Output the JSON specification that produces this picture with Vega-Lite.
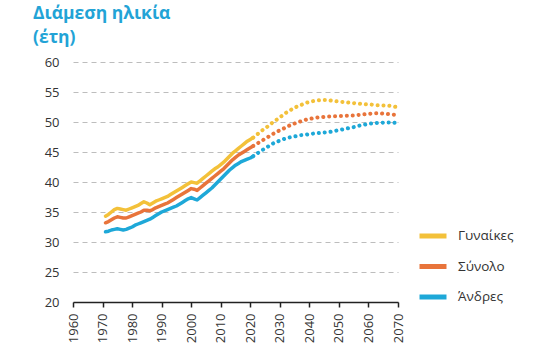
{
  "$schema": "https://vega.github.io/schema/vega-lite/v6.json",
  "width": 325,
  "height": 240,
  "autosize": {"type": "none"},
  "padding": {"left": 73, "top": 62, "right": 135, "bottom": 55},
  "background": "white",
  "title": {
    "text": ["Διάμεση ηλικία", "(έτη)"],
    "anchor": "start",
    "frame": "group",
    "orient": "top",
    "font": "Open Sans",
    "fontSize": 17.5,
    "fontWeight": "bold",
    "color": "#22a3d6",
    "lineHeight": 23.5,
    "dx": -40,
    "offset": 10
  },
  "config": {
    "view": {"stroke": null},
    "font": "Open Sans"
  },
  "datasets": {
    "hist": [
      {"year":1971,"Γυναίκες":34.3,"Σύνολο":33.2,"Άνδρες":31.7},
      {"year":1972,"Γυναίκες":34.6,"Σύνολο":33.4,"Άνδρες":31.8},
      {"year":1973,"Γυναίκες":35.0,"Σύνολο":33.7,"Άνδρες":32.0},
      {"year":1974,"Γυναίκες":35.4,"Σύνολο":34.0,"Άνδρες":32.1},
      {"year":1975,"Γυναίκες":35.6,"Σύνολο":34.2,"Άνδρες":32.2},
      {"year":1976,"Γυναίκες":35.5,"Σύνολο":34.1,"Άνδρες":32.1},
      {"year":1977,"Γυναίκες":35.4,"Σύνολο":34.0,"Άνδρες":32.0},
      {"year":1978,"Γυναίκες":35.3,"Σύνολο":34.0,"Άνδρες":32.1},
      {"year":1979,"Γυναίκες":35.5,"Σύνολο":34.2,"Άνδρες":32.3},
      {"year":1980,"Γυναίκες":35.7,"Σύνολο":34.4,"Άνδρες":32.5},
      {"year":1981,"Γυναίκες":35.9,"Σύνολο":34.6,"Άνδρες":32.8},
      {"year":1982,"Γυναίκες":36.1,"Σύνολο":34.8,"Άνδρες":33.0},
      {"year":1983,"Γυναίκες":36.4,"Σύνολο":35.0,"Άνδρες":33.2},
      {"year":1984,"Γυναίκες":36.7,"Σύνολο":35.3,"Άνδρες":33.4},
      {"year":1985,"Γυναίκες":36.5,"Σύνολο":35.3,"Άνδρες":33.6},
      {"year":1986,"Γυναίκες":36.2,"Σύνολο":35.2,"Άνδρες":33.8},
      {"year":1987,"Γυναίκες":36.5,"Σύνολο":35.4,"Άνδρες":34.1},
      {"year":1988,"Γυναίκες":36.8,"Σύνολο":35.7,"Άνδρες":34.4},
      {"year":1989,"Γυναίκες":37.0,"Σύνολο":35.9,"Άνδρες":34.7},
      {"year":1990,"Γυναίκες":37.2,"Σύνολο":36.1,"Άνδρες":35.0},
      {"year":1991,"Γυναίκες":37.4,"Σύνολο":36.3,"Άνδρες":35.2},
      {"year":1992,"Γυναίκες":37.6,"Σύνολο":36.5,"Άνδρες":35.4},
      {"year":1993,"Γυναίκες":37.9,"Σύνολο":36.8,"Άνδρες":35.6},
      {"year":1994,"Γυναίκες":38.2,"Σύνολο":37.1,"Άνδρες":35.8},
      {"year":1995,"Γυναίκες":38.5,"Σύνολο":37.4,"Άνδρες":36.0},
      {"year":1996,"Γυναίκες":38.8,"Σύνολο":37.7,"Άνδρες":36.3},
      {"year":1997,"Γυναίκες":39.1,"Σύνολο":38.0,"Άνδρες":36.6},
      {"year":1998,"Γυναίκες":39.4,"Σύνολο":38.3,"Άνδρες":36.9},
      {"year":1999,"Γυναίκες":39.7,"Σύνολο":38.6,"Άνδρες":37.2},
      {"year":2000,"Γυναίκες":40.0,"Σύνολο":38.9,"Άνδρες":37.4},
      {"year":2001,"Γυναίκες":39.9,"Σύνολο":38.8,"Άνδρες":37.2},
      {"year":2002,"Γυναίκες":39.8,"Σύνολο":38.6,"Άνδρες":37.0},
      {"year":2003,"Γυναίκες":40.2,"Σύνολο":39.0,"Άνδρες":37.4},
      {"year":2004,"Γυναίκες":40.6,"Σύνολο":39.4,"Άνδρες":37.8},
      {"year":2005,"Γυναίκες":41.0,"Σύνολο":39.8,"Άνδρες":38.2},
      {"year":2006,"Γυναίκες":41.4,"Σύνολο":40.2,"Άνδρες":38.6},
      {"year":2007,"Γυναίκες":41.8,"Σύνολο":40.6,"Άνδρες":39.0},
      {"year":2008,"Γυναίκες":42.2,"Σύνολο":41.0,"Άνδρες":39.5},
      {"year":2009,"Γυναίκες":42.5,"Σύνολο":41.4,"Άνδρες":40.0},
      {"year":2010,"Γυναίκες":42.9,"Σύνολο":41.8,"Άνδρες":40.5},
      {"year":2011,"Γυναίκες":43.3,"Σύνολο":42.2,"Άνδρες":41.0},
      {"year":2012,"Γυναίκες":43.8,"Σύνολο":42.7,"Άνδρες":41.5},
      {"year":2013,"Γυναίκες":44.3,"Σύνολο":43.2,"Άνδρες":42.0},
      {"year":2014,"Γυναίκες":44.8,"Σύνολο":43.7,"Άνδρες":42.4},
      {"year":2015,"Γυναίκες":45.2,"Σύνολο":44.1,"Άνδρες":42.8},
      {"year":2016,"Γυναίκες":45.6,"Σύνολο":44.5,"Άνδρες":43.1},
      {"year":2017,"Γυναίκες":46.0,"Σύνολο":44.8,"Άνδρες":43.4},
      {"year":2018,"Γυναίκες":46.4,"Σύνολο":45.1,"Άνδρες":43.6},
      {"year":2019,"Γυναίκες":46.8,"Σύνολο":45.4,"Άνδρες":43.8},
      {"year":2020,"Γυναίκες":47.1,"Σύνολο":45.7,"Άνδρες":44.0},
      {"year":2021,"Γυναίκες":47.4,"Σύνολο":46.0,"Άνδρες":44.3}
    ],
    "proj": [
      {"year":2021,"Γυναίκες":47.4,"Σύνολο":46.0,"Άνδρες":44.3},
      {"year":2022,"Γυναίκες":47.8,"Σύνολο":46.3,"Άνδρες":44.6},
      {"year":2023,"Γυναίκες":48.2,"Σύνολο":46.6,"Άνδρες":45.0},
      {"year":2024,"Γυναίκες":48.6,"Σύνολο":46.9,"Άνδρες":45.3},
      {"year":2025,"Γυναίκες":48.9,"Σύνολο":47.2,"Άνδρες":45.6},
      {"year":2026,"Γυναίκες":49.3,"Σύνολο":47.5,"Άνδρες":45.9},
      {"year":2027,"Γυναίκες":49.7,"Σύνολο":47.8,"Άνδρες":46.2},
      {"year":2028,"Γυναίκες":50.1,"Σύνολο":48.1,"Άνδρες":46.5},
      {"year":2029,"Γυναίκες":50.4,"Σύνολο":48.4,"Άνδρες":46.7},
      {"year":2030,"Γυναίκες":50.8,"Σύνολο":48.6,"Άνδρες":46.9},
      {"year":2031,"Γυναίκες":51.1,"Σύνολο":48.85,"Άνδρες":47.1},
      {"year":2032,"Γυναίκες":51.5,"Σύνολο":49.1,"Άνδρες":47.25},
      {"year":2033,"Γυναίκες":51.8,"Σύνολο":49.35,"Άνδρες":47.4},
      {"year":2034,"Γυναίκες":52.1,"Σύνολο":49.55,"Άνδρες":47.5},
      {"year":2035,"Γυναίκες":52.4,"Σύνολο":49.75,"Άνδρες":47.6},
      {"year":2036,"Γυναίκες":52.6,"Σύνολο":49.95,"Άνδρες":47.7},
      {"year":2037,"Γυναίκες":52.8,"Σύνολο":50.1,"Άνδρες":47.8},
      {"year":2038,"Γυναίκες":53.0,"Σύνολο":50.25,"Άνδρες":47.85},
      {"year":2039,"Γυναίκες":53.2,"Σύνολο":50.4,"Άνδρες":47.9},
      {"year":2040,"Γυναίκες":53.35,"Σύνολο":50.5,"Άνδρες":48.0},
      {"year":2041,"Γυναίκες":53.45,"Σύνολο":50.6,"Άνδρες":48.05},
      {"year":2042,"Γυναίκες":53.55,"Σύνολο":50.7,"Άνδρες":48.1},
      {"year":2043,"Γυναίκες":53.6,"Σύνολο":50.75,"Άνδρες":48.15},
      {"year":2044,"Γυναίκες":53.65,"Σύνολο":50.8,"Άνδρες":48.2},
      {"year":2045,"Γυναίκες":53.65,"Σύνολο":50.85,"Άνδρες":48.25},
      {"year":2046,"Γυναίκες":53.65,"Σύνολο":50.9,"Άνδρες":48.3},
      {"year":2047,"Γυναίκες":53.6,"Σύνολο":50.9,"Άνδρες":48.35},
      {"year":2048,"Γυναίκες":53.5,"Σύνολο":50.95,"Άνδρες":48.45},
      {"year":2049,"Γυναίκες":53.45,"Σύνολο":50.95,"Άνδρες":48.55},
      {"year":2050,"Γυναίκες":53.4,"Σύνολο":51.0,"Άνδρες":48.65},
      {"year":2051,"Γυναίκες":53.35,"Σύνολο":51.0,"Άνδρες":48.75},
      {"year":2052,"Γυναίκες":53.3,"Σύνολο":51.05,"Άνδρες":48.85},
      {"year":2053,"Γυναίκες":53.25,"Σύνολο":51.05,"Άνδρες":48.95},
      {"year":2054,"Γυναίκες":53.2,"Σύνολο":51.1,"Άνδρες":49.05},
      {"year":2055,"Γυναίκες":53.15,"Σύνολο":51.1,"Άνδρες":49.15},
      {"year":2056,"Γυναίκες":53.1,"Σύνολο":51.15,"Άνδρες":49.3},
      {"year":2057,"Γυναίκες":53.05,"Σύνολο":51.2,"Άνδρες":49.4},
      {"year":2058,"Γυναίκες":53.0,"Σύνολο":51.25,"Άνδρες":49.5},
      {"year":2059,"Γυναίκες":52.95,"Σύνολο":51.3,"Άνδρες":49.6},
      {"year":2060,"Γυναίκες":52.9,"Σύνολο":51.35,"Άνδρες":49.7},
      {"year":2061,"Γυναίκες":52.9,"Σύνολο":51.4,"Άνδρες":49.75},
      {"year":2062,"Γυναίκες":52.85,"Σύνολο":51.45,"Άνδρες":49.8},
      {"year":2063,"Γυναίκες":52.8,"Σύνολο":51.45,"Άνδρες":49.85},
      {"year":2064,"Γυναίκες":52.8,"Σύνολο":51.45,"Άνδρες":49.85},
      {"year":2065,"Γυναίκες":52.75,"Σύνολο":51.4,"Άνδρες":49.9},
      {"year":2066,"Γυναίκες":52.75,"Σύνολο":51.35,"Άνδρες":49.9},
      {"year":2067,"Γυναίκες":52.7,"Σύνολο":51.3,"Άνδρες":49.9},
      {"year":2068,"Γυναίκες":52.65,"Σύνολο":51.25,"Άνδρες":49.9},
      {"year":2069,"Γυναίκες":52.55,"Σύνολο":51.2,"Άνδρες":49.85},
      {"year":2070,"Γυναίκες":52.45,"Σύνολο":51.2,"Άνδρες":49.85}
    ]
  },
  "encoding": {
    "x": {
      "field": "year", "type": "quantitative",
      "scale": {"domain": [1960, 2070], "nice": false, "zero": false},
      "axis": {
        "title": null, "values": [1960,1970,1980,1990,2000,2010,2020,2030,2040,2050,2060,2070],
        "format": "d", "labelAngle": 270, "labelAlign": "right", "labelBaseline": "middle",
        "labelFontSize": 13, "labelColor": "#333", "labelPadding": 6, "labelFont": "Open Sans",
        "domainColor": "#222", "domainWidth": 1.5, "tickColor": "#222", "tickWidth": 1.5, "tickSize": 5,
        "grid": false
      }
    },
    "y": {
      "field": "value", "type": "quantitative",
      "scale": {"domain": [20, 60], "nice": false, "zero": false},
      "axis": {
        "title": null, "values": [20,25,30,35,40,45,50,55,60],
        "labelFontSize": 13, "labelColor": "#333", "labelPadding": 14, "labelFont": "Open Sans",
        "domain": false, "ticks": false,
        "grid": true, "gridDash": [5, 4], "gridColor": "#bdbdbd", "gridWidth": 1
      }
    },
    "color": {
      "field": "series", "type": "nominal",
      "scale": {"domain": ["Γυναίκες", "Σύνολο", "Άνδρες"], "range": ["#f3c13a", "#e8743b", "#1ea8d8"]},
      "legend": {
        "title": null, "orient": "none", "legendX": 344, "legendY": 158, "padding": 0,
        "symbolType": "stroke", "symbolSize": 729, "symbolStrokeWidth": 5, "symbolDash": [],
        "labelFontSize": 13.5, "labelColor": "#333", "labelFont": "Open Sans", "labelOffset": 9,
        "labelAlign": "left", "rowPadding": 4.5
      }
    }
  },
  "layer": [
    {
      "data": {"name": "hist"},
      "transform": [{"fold": ["Γυναίκες", "Σύνολο", "Άνδρες"], "as": ["series", "value"]}],
      "mark": {"type": "line", "strokeWidth": 3.5, "strokeCap": "round", "strokeJoin": "round"}
    },
    {
      "data": {"name": "proj"},
      "transform": [{"fold": ["Γυναίκες", "Σύνολο", "Άνδρες"], "as": ["series", "value"]}],
      "mark": {"type": "line", "strokeWidth": 4, "strokeCap": "round", "strokeDash": [0.1, 5.8]}
    }
  ]
}
